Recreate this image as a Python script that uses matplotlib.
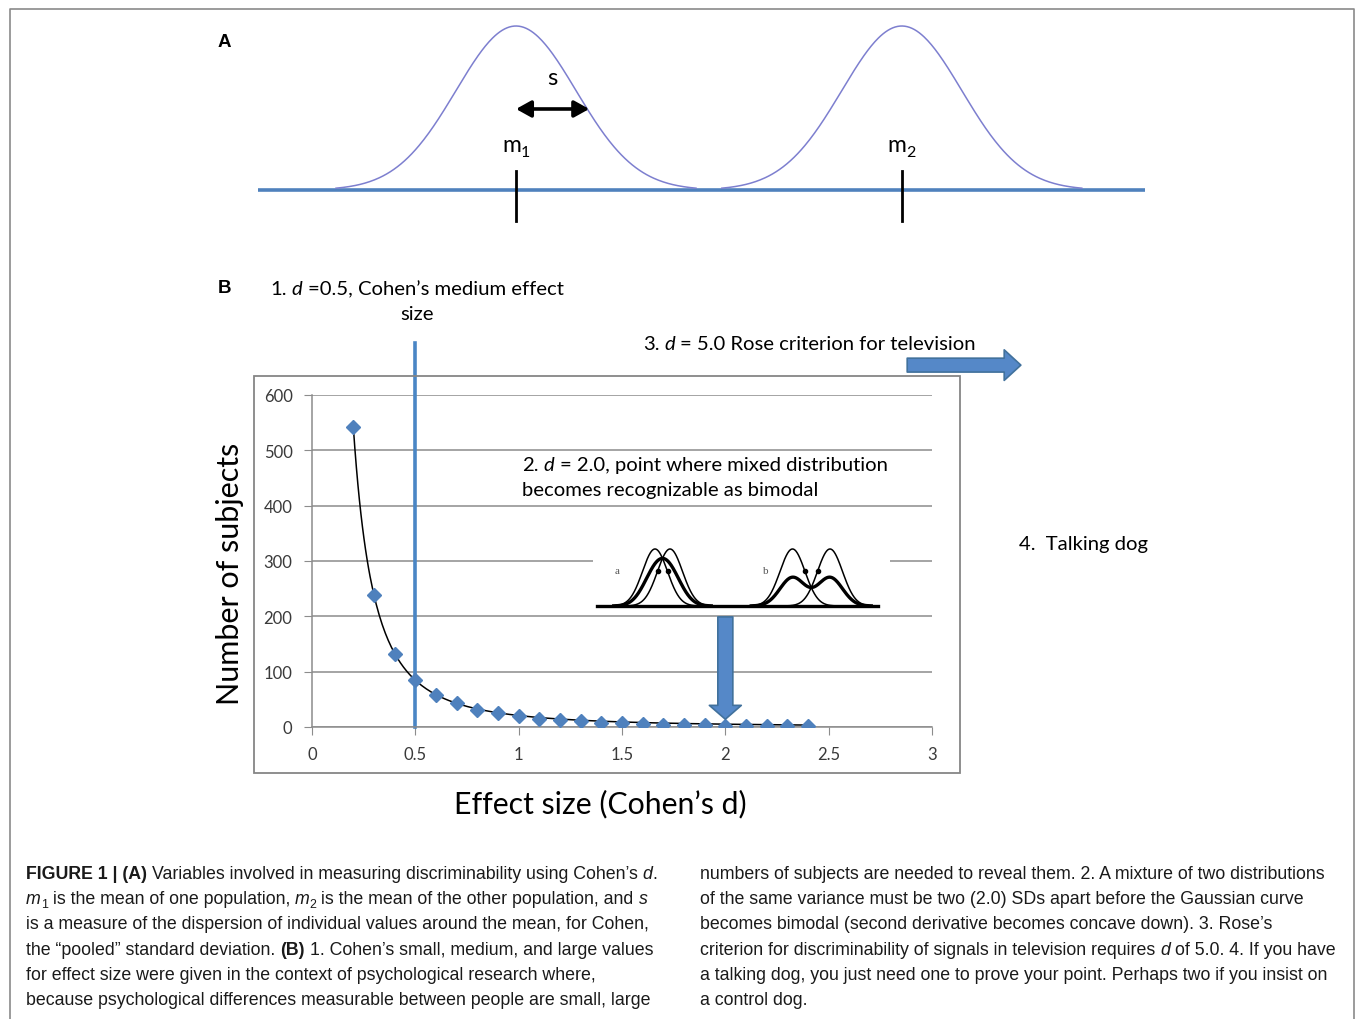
import numpy as np
import matplotlib.pyplot as plt
from matplotlib.patches import Rectangle

# ---- panel B: number of subjects needed vs effect size ----
effect_size = [0.2, 0.3, 0.4, 0.5, 0.6, 0.7, 0.8, 0.9, 1.0, 1.1, 1.2, 1.3,
               1.4, 1.5, 1.6, 1.7, 1.8, 1.9, 2.0, 2.1, 2.2, 2.3, 2.4]
n_subjects = [542, 239, 132, 85, 58, 43, 31, 26, 20, 15, 12, 10,
              8, 7, 5, 4, 4, 3, 2, 2, 2, 2, 1]
y_ticks = [0, 100, 200, 300, 400, 500, 600]
x_ticks = [0, 0.5, 1, 1.5, 2, 2.5, 3]
x_ticklabels = ['0', '0.5', '1', '1.5', '2', '2.5', '3']
medium_d = 0.5      # Cohen's medium effect
bimodal_d = 2.0     # mixture becomes bimodal
rose_arrow_x = [2.88, 3.43]
rose_arrow_y = 654

# ---- panel A: two populations, means in units of s ----
pop_means = [0.0, 6.43]
pop_subs = ['1', '2']
s_arrow = [0.0, 1.22]

# ---- inset: mixtures of two gaussians (separation in SD) ----
mix_names = ['a', 'b']
mix_centers = [0.0, 11.9]
mix_sep = [1.2, 3.0]

W, H = 1355, 1020
fig = plt.figure(figsize=(W / 100, H / 100), dpi=100)
R = fig.canvas.get_renderer()

CAL = ['Lato', 'DejaVu Sans']
CAP = ['Liberation Sans', 'DejaVu Sans']
BLUE = '#4F81BD'


def fig_rect(x0, y0, x1, y1):
    return [x0 / W, 1 - y1 / H, (x1 - x0) / W, (y1 - y0) / H]


# overlay in pixel coords (y down) for texts and frames
ov = fig.add_axes([0, 0, 1, 1])
ov.set_xlim(0, W)
ov.set_ylim(H, 0)
ov.axis('off')
ov.set_zorder(10)


def draw_runs(x, y, parts, size, family, ha='left', color='black'):
    tmp = ov.text(0, 0, 'a a', fontsize=size, family=family)
    tmp2 = ov.text(0, 0, 'aa', fontsize=size, family=family)
    sp = tmp.get_window_extent(R).width - tmp2.get_window_extent(R).width
    tmp.remove()
    tmp2.remove()
    texts = []
    cx = x
    for s, st in parts:
        kw = dict(fontsize=size, family=family, color=color, va='baseline')
        dy = 0
        if st == 'b':
            kw['weight'] = 'bold'
        if st == 'i':
            kw['style'] = 'italic'
        if st == 'sub':
            kw['fontsize'] = size * 0.7
            dy = size * 100 / 72 * 0.22
        lead = len(s) - len(s.lstrip(' '))
        trail = len(s) - len(s.rstrip(' '))
        cx += lead * sp
        t = ov.text(cx, y + dy, s.strip(' '), **kw)
        cx += t.get_window_extent(R).width + trail * sp
        texts.append(t)
    if ha == 'center':
        shift = (cx - x) / 2
        for t in texts:
            t.set_x(t.get_position()[0] - shift)
    return texts


# outer frame of the figure
ov.plot([10, 10, W - 1, W - 1], [H, 10, 10, H], color='#8a8a8a', lw=1.2)

# ---------------- panel A ----------------
axA = fig.add_axes(fig_rect(258, 20, 1145, 230))
axA.set_xlim(-4.3, 10.483)
axA.set_ylim(-0.2378, 1.0427)
axA.axis('off')
axA.axhline(0, color=BLUE, lw=2.6)
for m in pop_means:
    xx = np.linspace(m - 3.0, m + 3.0, 300)
    axA.plot(xx, np.exp(-(xx - m) ** 2 / 2), color='#7d7fcf', lw=1.1)
    axA.plot([m, m], [0.116, -0.189], color='black', lw=2)
axA.annotate('', xy=(s_arrow[1], 0.494), xytext=(s_arrow[0], 0.494),
             arrowprops=dict(arrowstyle='<|-|>, head_length=0.45, head_width=0.25',
                             color='black', lw=2.6, mutation_scale=20,
                             shrinkA=0, shrinkB=0))

for m, sub in zip(pop_means, pop_subs):
    px, py = axA.transData.transform((m, 0.238))
    draw_runs(px, H - py, [('m', 'r'), (sub, 'sub')], 16.5, CAL, ha='center')
px, py = axA.transData.transform((0.6, 0.646))
ov.text(px, H - py, 's', fontsize=17, family=CAL, ha='center', va='baseline')

ov.text(218, 47, 'A', fontsize=13.5, family=['Liberation Sans'], weight='bold', va='baseline')
ov.text(218, 293, 'B', fontsize=13.5, family=['Liberation Sans'], weight='bold', va='baseline')

# ---------------- panel B ----------------
ov.add_patch(Rectangle((254, 377), 706, 397, fill=False, ec='#868686', lw=1.3))

ax = fig.add_axes(fig_rect(312, 396, 932, 728))
ax.set_facecolor('none')
ax.set_xlim(0, 3)
ax.set_ylim(0, 600)
for sname in ['top', 'right']:
    ax.spines[sname].set_visible(False)
for sname in ['left', 'bottom']:
    ax.spines[sname].set_color('#8c8c8c')
    ax.spines[sname].set_linewidth(1.1)
ax.set_yticks(y_ticks)
ax.set_xticks(x_ticks)
ax.set_xticklabels(x_ticklabels)
ax.yaxis.grid(True, color='#8c8c8c', lw=1.1)
ax.set_axisbelow(True)
ax.tick_params(direction='out', length=6, color='#8c8c8c', labelsize=12,
               labelcolor='#3a3a3a', pad=8)
for lab in ax.get_xticklabels() + ax.get_yticklabels():
    lab.set_family(CAL)

# power-law trendline fitted to the steep part of the series
d_arr = np.array(effect_size)
n_arr = np.array(n_subjects, dtype=float)
keep = n_arr >= 40
slope, icpt = np.polyfit(np.log(d_arr[keep]), np.log(n_arr[keep]), 1)
d_fit = np.linspace(d_arr.min(), d_arr.max(), 300)
ax.plot(d_fit, np.exp(icpt) * d_fit ** slope, color='black', lw=1.1, zorder=3)
ax.plot(effect_size, n_subjects, linestyle='none', marker='D', ms=7,
        color=BLUE, mec=BLUE, zorder=4)

ax.axvline(medium_d, ymin=0, ymax=1.157, color='#4a86c5', lw=2.6, clip_on=False, zorder=2)

ax.annotate('', xy=(bimodal_d, 14), xytext=(bimodal_d, 199),
            arrowprops=dict(arrowstyle='simple, head_length=1.0, head_width=2.3, tail_width=1.08',
                            mutation_scale=10, fc='#5588c8', ec='#41719c', lw=1.2,
                            shrinkA=0, shrinkB=0), zorder=6)
ax.annotate('', xy=(rose_arrow_x[1], rose_arrow_y), xytext=(rose_arrow_x[0], rose_arrow_y),
            arrowprops=dict(arrowstyle='simple, head_length=1.2, head_width=2.2, tail_width=1.0',
                            mutation_scale=10, fc='#5588c8', ec='#41719c', lw=1.2,
                            shrinkA=0, shrinkB=0),
            annotation_clip=False)

# inset with the two mixtures
ins = fig.add_axes(fig_rect(593, 540, 890, 612))
ins.set_facecolor('white')
for sp_ in ins.spines.values():
    sp_.set_visible(False)
ins.set_xticks([])
ins.set_yticks([])
ins.set_xlim(-5.56, 18.2)
ins.set_ylim(-0.088, 1.175)
ins.axhline(0, xmin=0.012, xmax=0.96, color='black', lw=2.4)
for name, c, sep in zip(mix_names, mix_centers, mix_sep):
    m1, m2 = c - sep / 2, c + sep / 2
    xx = np.linspace(m1 - 3.3, m2 + 3.3, 400)
    g1 = np.exp(-(xx - m1) ** 2 / 2)
    g2 = np.exp(-(xx - m2) ** 2 / 2)
    ins.plot(xx, g1, color='black', lw=1.1)
    ins.plot(xx, g2, color='black', lw=1.1)
    ins.plot(xx, (g1 + g2) / 2, color='black', lw=2.4)
    ins.plot([m1 + 1, m2 - 1], [np.exp(-0.5), np.exp(-0.5)], 'o', color='black', ms=3)
    ins.text(c - 3.64, 0.614, name, family=['Liberation Serif'], fontsize=8,
             color='#555555', ha='center', va='center')

# annotations
draw_runs(270, 295, [('1. ', 'r'), ('d', 'i'), (' =0.5, Cohen’s medium effect', 'r')], 14.6, CAL)
draw_runs(417, 320, [('size', 'r')], 14.6, CAL, ha='center')
draw_runs(643, 350, [('3. ', 'r'), ('d', 'i'), (' = 5.0 Rose criterion for television', 'r')], 14.6, CAL)
draw_runs(522, 471, [('2. ', 'r'), ('d', 'i'), (' = 2.0, point where mixed distribution', 'r')], 14.6, CAL)
draw_runs(522, 496, [('becomes recognizable as bimodal', 'r')], 14.6, CAL)
draw_runs(1019, 550, [('4.  Talking dog', 'r')], 14.6, CAL)

ov.text(230, 574, 'Number of subjects', family=CAL, fontsize=22, rotation=90,
        ha='center', va='center')
ov.text(600, 804, 'Effect size (Cohen’s d)', family=CAL, fontsize=21.8,
        ha='center', va='center')

# ---------------- caption ----------------
left_lines = [
    [('FIGURE 1 | (A)', 'b'), (' Variables involved in measuring discriminability using Cohen’s ', 'r'), ('d', 'i'), ('.', 'r')],
    [('m', 'i'), ('1', 'sub'), (' is the mean of one population, ', 'r'), ('m', 'i'), ('2', 'sub'),
     (' is the mean of the other population, and ', 'r'), ('s', 'i')],
    [('is a measure of the dispersion of individual values around the mean, for Cohen,', 'r')],
    [('the “pooled” standard deviation. ', 'r'), ('(B)', 'b'), (' 1. Cohen’s small, medium, and large values', 'r')],
    [('for effect size were given in the context of psychological research where,', 'r')],
    [('because psychological differences measurable between people are small, large', 'r')],
]
right_lines = [
    [('numbers of subjects are needed to reveal them. 2. A mixture of two distributions', 'r')],
    [('of the same variance must be two (2.0) SDs apart before the Gaussian curve', 'r')],
    [('becomes bimodal (second derivative becomes concave down). 3. Rose’s', 'r')],
    [('criterion for discriminability of signals in television requires ', 'r'), ('d', 'i'), (' of 5.0. 4. If you have', 'r')],
    [('a talking dog, you just need one to prove your point. Perhaps two if you insist on', 'r')],
    [('a control dog.', 'r')],
]
for i, parts in enumerate(left_lines):
    draw_runs(26, 879 + 25.2 * i, parts, 12.8, CAP, color='#1a1a1a')
for i, parts in enumerate(right_lines):
    draw_runs(700, 879 + 25.2 * i, parts, 12.8, CAP, color='#1a1a1a')

fig.savefig('out.png', dpi=100)
